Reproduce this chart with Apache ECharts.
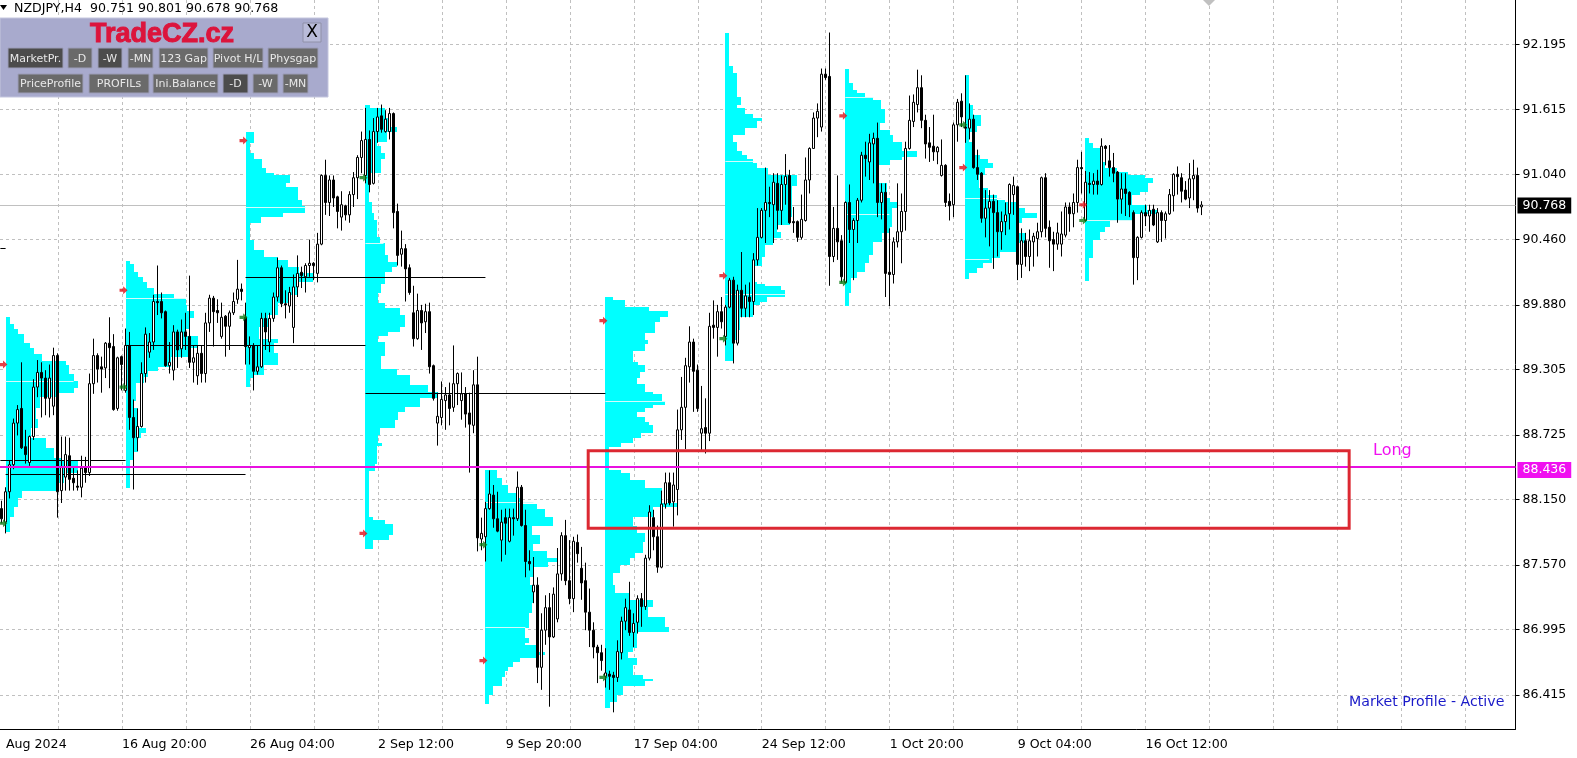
<!DOCTYPE html>
<html>
<head>
<meta charset="utf-8">
<title>NZDJPY,H4</title>
<script src="https://cdn.jsdelivr.net/npm/echarts@6/dist/echarts.min.js"></script>
<style>
  html, body { margin: 0; padding: 0; background: #fff; overflow: hidden; }
  #chart { width: 1577px; height: 758px; }
</style>
</head>
<body>
<div id="chart"></div>
<script>
// price ticks and time labels
const priceTicks = [92.195, 91.615, 91.04, 90.46, 89.88, 89.305, 88.725, 88.15, 87.57, 86.995, 86.415]
const timeLabels = { 1: 'Aug 2024', 30: '16 Aug 20:00', 62: '26 Aug 04:00', 94: '2 Sep 12:00', 126: '9 Sep 20:00', 158: '17 Sep 04:00', 190: '24 Sep 12:00', 222: '1 Oct 20:00', 254: '9 Oct 04:00', 286: '16 Oct 12:00' }
const lastPrice = 90.768
const longPrice = 88.436

// H4 candles: open, close, low, high
const candles = [
  [88.07,87.98,87.94,88.14],[87.95,88.22,87.85,88.26],[88.22,88.46,88.16,88.50],[88.46,88.83,88.42,88.87],[88.83,88.95,88.72,88.99],
  [88.96,88.61,88.60,89.37],[88.62,88.55,88.47,88.77],[88.48,88.71,88.45,88.72],[88.71,89.15,88.68,89.22],[89.15,89.28,89.06,89.39],
  [89.28,89.23,88.88,89.37],[89.23,89.05,88.90,89.30],[89.05,89.23,88.88,89.35],[88.98,89.43,88.90,89.50],[89.43,88.22,87.99,89.45],
  [88.23,88.44,88.12,88.71],[88.35,88.55,88.23,88.71],[88.54,88.33,88.23,88.70],[88.34,88.30,88.23,88.43],[88.27,88.26,88.23,88.41],
  [88.26,88.43,88.17,88.54],[88.44,88.39,88.30,88.53],[88.39,89.18,88.36,89.27],[89.18,89.43,89.09,89.58],[89.43,89.31,89.19,89.45],
  [89.33,89.31,89.10,89.42],[89.32,89.54,89.23,89.55],[89.54,89.50,89.14,89.77],[89.51,88.95,88.94,89.62],[88.96,89.41,88.94,89.42],
  [89.42,89.35,89.12,89.43],[89.12,89.52,89.10,89.67],[89.52,88.88,88.77,89.64],[88.88,88.70,88.24,89.04],[88.70,88.80,88.58,88.96],
  [88.80,89.27,88.79,89.37],[89.27,89.62,89.19,89.68],[89.46,89.55,89.41,89.63],[89.55,89.91,89.48,89.97],[89.91,89.90,89.79,90.23],
  [89.91,89.81,89.76,89.99],[89.82,89.34,89.33,89.83],[89.34,89.37,89.27,89.55],[89.30,89.64,89.21,89.70],[89.64,89.48,89.32,89.66],
  [89.49,89.64,89.41,89.75],[89.64,89.60,89.48,89.81],[89.60,89.37,89.32,90.14],[89.37,89.41,89.19,89.52],[89.25,89.45,89.17,89.52],
  [89.45,89.27,89.19,89.52],[89.27,89.72,89.19,89.81],[89.72,89.94,89.64,89.97],[89.94,89.82,89.51,89.96],[89.83,89.81,89.72,89.93],
  [89.60,89.77,89.58,89.90],[89.78,89.69,89.42,89.79],[89.69,89.81,89.48,89.83],[89.81,89.91,89.79,89.99],[89.93,90.02,89.89,90.28],
  [90.02,90.00,89.92,90.07],[89.77,89.51,89.35,89.90],[89.50,89.52,89.35,89.60],[89.52,89.29,89.12,89.54],[89.29,89.33,89.26,89.52],
  [89.33,89.76,89.32,89.81],[89.76,89.64,89.48,89.81],[89.55,89.76,89.46,89.81],[89.76,89.95,89.73,89.99],[89.95,90.21,89.91,90.30],
  [90.21,89.89,89.86,90.23],[89.89,89.88,89.76,90.01],[89.87,89.99,89.81,90.04],[89.68,90.04,89.54,90.15],[90.04,90.16,89.95,90.32],
  [90.17,90.14,90.03,90.22],[90.13,90.23,89.99,90.25],[90.23,90.25,90.13,90.46],[90.25,90.23,90.10,90.26],[90.16,90.42,90.08,90.52],
  [90.42,91.03,90.41,91.04],[91.03,90.79,90.68,91.17],[90.79,90.99,90.67,91.03],[90.99,90.83,90.75,91.03],[90.84,90.71,90.56,90.85],
  [90.66,90.77,90.54,90.89],[90.76,90.68,90.63,90.77],[90.68,90.86,90.61,90.89],[90.86,91.01,90.75,91.06],[91.01,91.19,90.82,91.21],
  [91.19,91.34,91.05,91.42],[91.03,91.35,90.96,91.63],[91.35,90.95,90.88,91.43],[90.96,91.42,90.95,91.54],[91.42,91.55,91.32,91.63],
  [91.56,91.44,91.41,91.66],[91.42,91.53,91.41,91.61],[91.42,91.58,91.35,91.63],[91.58,90.70,90.56,91.59],[90.71,90.32,90.23,90.78],
  [90.33,90.38,90.22,90.54],[90.38,90.20,89.91,90.42],[90.21,89.99,89.97,90.24],[89.81,89.58,89.51,90.05],[89.58,89.83,89.57,89.98],
  [89.83,89.72,89.48,89.88],[89.73,89.82,89.63,89.89],[89.82,89.33,89.27,89.90],[89.34,89.05,89.03,89.35],[88.83,88.89,88.63,89.10],
  [88.88,89.04,88.81,89.20],[89.03,89.08,88.77,89.15],[89.08,88.96,88.81,89.19],[88.97,89.18,88.93,89.52],[89.18,89.27,88.99,89.28],
  [89.03,89.09,88.86,89.28],[89.09,88.91,88.79,89.15],[88.92,88.82,88.39,89.10],[88.81,89.17,88.74,89.30],[89.17,87.81,87.69,89.42],
  [87.80,87.85,87.70,87.99],[87.82,88.07,87.60,88.13],[88.07,88.20,88.06,88.41],[88.19,87.98,87.90,88.28],[87.98,87.87,87.86,88.22],
  [87.79,87.95,87.60,88.06],[87.99,87.94,87.66,88.07],[87.78,87.99,87.77,88.07],[87.99,87.98,87.83,88.07],[87.98,88.26,87.96,88.40],
  [88.26,87.92,87.91,88.28],[87.92,87.60,87.46,88.06],[87.60,87.58,87.52,87.70],[87.33,87.39,87.23,87.64],[87.39,86.66,86.52,87.46],
  [86.66,86.99,86.46,87.14],[86.99,87.19,86.86,87.30],[87.19,86.93,86.31,87.32],[86.93,87.31,86.92,87.37],[87.09,87.49,87.06,87.72],
  [87.49,87.83,87.43,87.86],[87.83,87.43,87.39,87.97],[87.43,87.27,87.22,87.79],[87.27,87.78,87.15,87.82],[87.77,87.67,87.59,87.84],
  [87.54,87.41,87.26,87.73],[87.43,87.15,86.99,87.59],[87.15,86.99,86.84,87.36],[86.99,86.84,86.74,87.06],[86.84,86.79,86.52,86.86],
  [86.79,86.72,86.63,86.86],[86.58,86.61,86.48,86.83],[86.60,86.58,86.46,86.63],[86.59,86.57,86.26,86.62],[86.57,86.80,86.53,86.90],
  [86.79,87.07,86.73,87.11],[87.07,87.19,86.99,87.27],[87.17,86.97,86.94,87.42],[86.97,87.05,86.84,87.14],[87.06,87.27,86.96,87.30],
  [87.27,87.20,87.02,87.32],[87.20,87.63,87.17,87.66],[87.63,88.04,87.61,88.10],[87.99,87.82,87.70,88.06],[87.82,87.55,87.50,87.92],
  [87.55,88.11,87.54,88.23],[88.11,88.30,88.07,88.39],[88.30,88.12,88.10,88.39],[88.13,88.28,87.91,88.39],[88.24,88.77,88.01,88.95],
  [88.77,88.97,88.68,89.24],[88.97,89.34,88.60,89.41],[89.33,89.55,89.19,89.69],[89.55,89.29,88.93,89.58],[89.30,88.96,88.93,89.35],
  [88.74,88.78,88.59,89.16],[88.79,88.74,88.56,89.05],[88.74,89.69,88.67,89.81],[89.70,89.68,89.58,89.92],[89.68,89.82,89.42,89.88],
  [89.82,89.73,89.67,89.95],[89.60,89.86,89.52,89.88],[89.86,90.10,89.85,90.12],[90.10,89.54,89.36,90.13],[89.54,90.01,89.52,90.06],
  [90.01,89.85,89.77,90.35],[89.85,89.96,89.77,90.06],[89.95,89.91,89.77,90.08],[89.91,90.28,89.79,90.34],[90.28,90.48,90.23,90.74],
  [90.48,90.72,90.47,90.74],[90.72,90.79,90.43,91.10],[90.79,90.78,90.66,90.93],[90.77,90.97,90.43,91.05],[90.96,90.72,90.55,91.05],
  [90.72,90.95,90.59,91.03],[90.95,91.02,90.77,91.22],[91.03,90.61,90.60,91.08],[90.62,90.61,90.52,90.75],[90.62,90.48,90.44,90.63],
  [90.48,90.64,90.46,90.86],[90.63,90.99,90.62,91.19],[90.99,91.27,90.87,91.28],[91.27,91.54,91.27,91.59],[91.54,91.60,91.37,91.67],
  [91.46,91.93,91.42,91.98],[91.93,91.90,91.88,91.98],[91.91,90.31,90.05,92.30],[90.31,90.56,90.26,90.75],[90.56,90.44,90.28,91.03],
  [90.45,90.13,90.08,90.50],[90.08,90.79,90.07,90.80],[90.79,90.55,90.43,90.95],[90.55,90.63,90.10,90.65],[90.63,90.81,90.43,90.83],
  [90.81,91.21,90.79,91.24],[91.21,91.18,91.02,91.33],[91.15,91.32,90.99,91.40],[91.31,91.36,90.96,91.41],[91.36,90.79,90.66,91.50],
  [90.79,90.88,90.64,90.96],[90.88,90.16,89.95,90.96],[90.17,90.15,89.87,90.56],[90.15,90.44,90.07,90.48],[90.44,90.53,90.39,90.96],
  [90.53,90.71,90.25,90.87],[90.71,91.27,90.54,91.33],[91.27,91.52,91.26,91.74],[91.51,91.68,91.46,91.75],[91.66,91.81,91.59,91.97],
  [91.81,91.52,91.45,91.92],[91.52,91.31,91.18,91.57],[91.32,91.28,91.15,91.46],[91.29,91.24,91.16,91.57],[91.24,91.28,91.13,91.29],
  [91.03,91.12,91.02,91.35],[91.12,90.79,90.75,91.13],[90.80,90.76,90.63,90.87],[90.77,91.48,90.66,91.50],[91.48,91.68,91.33,91.71],
  [91.69,91.55,91.46,91.76],[91.46,91.45,91.32,91.92],[91.45,91.53,91.35,91.67],[91.53,91.10,91.09,91.57],[91.10,91.04,90.99,91.26],
  [91.05,90.65,90.61,91.06],[90.65,90.74,90.48,90.90],[90.74,90.80,90.40,90.90],[90.80,90.70,90.20,90.86],[90.70,90.53,90.31,90.81],
  [90.53,90.62,90.37,90.71],[90.62,90.68,90.50,90.79],[90.69,90.95,90.55,90.96],[90.86,90.94,90.68,91.02],[90.93,90.24,90.10,90.94],
  [90.24,90.45,90.12,90.56],[90.45,90.31,90.22,90.52],[90.31,90.45,90.18,90.55],[90.44,90.49,90.22,90.52],[90.47,90.53,90.31,90.61],
  [90.53,91.01,90.48,91.02],[91.01,90.56,90.48,91.05],[90.57,90.45,90.21,90.63],[90.46,90.42,90.18,90.53],[90.42,90.52,90.37,90.61],
  [90.42,90.51,90.31,90.71],[90.50,90.75,90.48,90.79],[90.75,90.69,90.53,90.79],[90.69,90.79,90.57,90.87],[90.79,91.10,90.70,91.17],
  [91.10,91.09,90.87,91.24],[90.63,90.97,90.62,91.07],[90.96,90.95,90.87,91.06],[90.95,90.98,90.86,91.05],[90.98,90.95,90.86,91.08],
  [90.95,91.29,90.94,91.36],[91.29,91.27,91.12,91.30],[91.16,91.10,91.02,91.30],[91.10,91.05,90.97,91.23],[91.06,90.82,90.61,91.07],
  [90.82,90.91,90.69,91.05],[90.91,90.87,90.67,91.05],[90.88,90.77,90.66,90.89],[90.70,90.30,90.06,90.72],[90.30,90.48,90.10,90.49],
  [90.48,90.70,90.47,90.72],[90.70,90.67,90.58,90.77],[90.67,90.72,90.53,90.77],[90.73,90.59,90.58,90.77],[90.44,90.70,90.43,90.74],
  [90.70,90.63,90.44,90.72],[90.63,90.69,90.47,90.71],[90.69,90.86,90.68,90.91],[90.85,91.04,90.71,91.05],[91.04,91.02,90.86,91.11],
  [91.01,90.89,90.79,91.05],[90.90,90.82,90.81,90.98],[90.83,91.00,90.74,91.14],[91.00,91.03,90.81,91.17],[91.03,90.74,90.70,91.10],
  [90.751,90.768,90.678,90.801]
]

// market profiles: [row top price, row length in bars], last row closes the profile
const profile1 = [[89.77,1],[89.71,2],[89.67,3],[89.62,4.5],[89.54,6],[89.50,7],[89.44,9],[89.38,15],[89.35,15.75],[89.27,17],[89.20,18],[89.14,17],[89.10,12.5],[89.06,8.5],[88.96,7.5],[88.87,8],[88.79,6.25],[88.70,10],[88.61,12],[88.52,14],[88.50,18],[88.39,14.5],[88.30,13],[88.23,4],[88.16,3],[88.08,2],[88.00,1],[87.86,0]]
const profile2 = [[90.27,1],[90.24,2],[90.17,3],[90.13,4.25],[90.08,5.25],[90.03,7],[89.98,12],[89.93,15],[89.88,15.25],[89.83,17],[89.76,15.75],[89.67,15],[89.60,18],[89.50,16.25],[89.42,11.25],[89.33,8],[89.29,5.5],[89.24,4.5],[89.19,2.5],[89.03,2],[88.96,3],[88.79,5],[88.74,3.75],[88.70,3],[88.57,2],[88.50,1],[88.25,0]]
const profile3 = [[91.42,2],[91.32,1],[91.23,2],[91.18,4],[91.10,5],[91.05,7],[91.03,11],[90.96,10],[90.93,13],[90.81,14],[90.76,15],[90.70,9.25],[90.66,3.75],[90.61,1],[90.46,2],[90.37,4.5],[90.31,8],[90.28,10.5],[90.22,13.25],[90.16,17],[90.08,13],[89.97,10.5],[89.90,8],[89.79,5.5],[89.68,3.25],[89.58,8],[89.54,7],[89.45,8],[89.35,4.5],[89.26,2],[89.23,1],[89.15,0]]
const profile4 = [[91.66,1.25],[91.63,5],[91.54,6.25],[91.46,8],[91.42,5.5],[91.33,3],[91.29,4],[91.23,5],[91.18,4],[91.05,1.25],[90.91,1],[90.79,1.75],[90.70,2.25],[90.63,3],[90.48,3.75],[90.43,5],[90.32,5.75],[90.26,8],[90.22,6.75],[90.17,5],[90.07,4],[89.99,3.25],[89.90,5],[89.85,8.75],[89.79,10],[89.68,8.75],[89.64,5.75],[89.60,3.25],[89.55,5],[89.43,4],[89.31,8],[89.26,11.25],[89.17,15.75],[89.11,18.25],[89.05,13.75],[88.97,10],[88.93,8.25],[88.86,7.5],[88.79,3.75],[88.72,3.25],[88.65,4.25],[88.63,3],[88.47,2.5],[88.40,1],[88.00,2],[87.97,5],[87.93,7],[87.84,6],[87.79,2],[87.71,0]]
const profile5 = [[88.41,3],[88.34,4.25],[88.28,5.75],[88.21,8],[88.16,9.5],[88.11,13],[88.07,15],[88.00,17],[87.92,11.75],[87.84,13.75],[87.76,12],[87.69,15.5],[87.63,18],[87.60,15.75],[87.55,12.25],[87.46,11.25],[87.39,12],[87.23,11.75],[87.14,11],[87.01,10],[86.92,11],[86.88,10],[86.86,13.25],[86.80,15],[86.77,13],[86.74,8.75],[86.71,7],[86.66,5.75],[86.63,5],[86.57,4.25],[86.49,2],[86.41,1],[86.33,0]]
const profile6 = [[89.95,2],[89.92,5],[89.86,11],[89.83,15.75],[89.77,13.75],[89.73,12.5],[89.63,10],[89.57,10.75],[89.53,10],[89.47,7],[89.37,8.25],[89.35,10],[89.28,8.75],[89.23,8],[89.18,10],[89.11,12],[89.09,14.25],[89.03,15],[88.99,12],[88.96,10],[88.93,8],[88.88,10],[88.84,11],[88.81,12],[88.74,9],[88.70,7],[88.65,4],[88.62,1],[88.41,4],[88.39,6.25],[88.32,10],[88.25,14.25],[88.12,18],[88.08,12],[88.00,7],[87.92,8],[87.85,10],[87.77,9.5],[87.68,7.5],[87.63,6.25],[87.57,3.75],[87.50,2],[87.39,2.5],[87.32,6.25],[87.26,12],[87.20,10.75],[87.11,15],[87.02,16],[86.97,8],[86.83,7],[86.80,5.75],[86.74,8],[86.68,7],[86.59,9.5],[86.56,12],[86.54,10],[86.49,4.5],[86.41,3],[86.35,1.25],[86.30,0]]
const profile7 = [[92.30,1],[92.00,2],[91.94,3],[91.73,4],[91.66,3],[91.63,5],[91.58,7],[91.54,9.25],[91.51,8],[91.45,5],[91.39,2],[91.33,3],[91.25,4.25],[91.21,5.5],[91.18,7],[91.14,8],[91.10,10.75],[91.03,18],[90.94,16.75],[90.79,16.75],[90.66,16.25],[90.59,13],[90.53,14],[90.47,12],[90.41,10],[90.31,9.25],[90.23,7.5],[90.08,8],[90.07,10],[90.05,14],[90.01,15],[89.95,10.5],[89.91,8.75],[89.88,7],[89.77,3.75],[89.66,3],[89.57,2],[89.38,0]]
const profile8 = [[91.98,1],[91.85,2],[91.79,3],[91.76,5],[91.73,7],[91.70,9],[91.62,10],[91.50,8.75],[91.43,11.25],[91.39,12],[91.33,14.25],[91.25,18],[91.19,14.25],[91.17,11.25],[91.12,8],[90.96,10.5],[90.83,11.25],[90.79,13],[90.74,11.75],[90.57,11.25],[90.52,9.25],[90.44,7],[90.32,6],[90.25,5],[90.17,3],[90.12,1.5],[89.99,1],[89.87,0]]
const profile9 = [[91.92,1],[91.66,2],[91.57,4],[91.47,3],[91.42,1],[91.33,1.75],[91.21,3.75],[91.18,5.75],[91.14,7],[91.10,5],[91.03,3.5],[90.92,5.75],[90.86,8],[90.81,10],[90.79,13],[90.74,15],[90.70,18],[90.65,14.25],[90.61,13.25],[90.52,15],[90.43,13.25],[90.35,8.75],[90.30,6.75],[90.25,4.5],[90.21,3],[90.16,1],[90.11,0]]
const profile10 = [[91.36,1],[91.32,2],[91.27,3.75],[91.19,4.5],[91.15,5],[91.10,8],[91.06,10.75],[91.03,15],[91.01,17],[90.96,15.75],[90.88,13.75],[90.86,11.75],[90.77,15.5],[90.72,18],[90.69,12],[90.63,6.25],[90.57,5],[90.53,3.75],[90.46,2],[90.30,1],[90.09,0]]
const profiles = [profile1, profile2, profile3, profile4, profile5, profile6, profile7, profile8, profile9, profile10]
const profileStarts = [0.9, 30.9, 60.9, 90.9, 120.9, 150.9, 180.9, 210.9, 240.9, 270.9]

// pale lines inside the profiles: [profile number, price, length in bars]
const paleLines = [[0,89.20,17],[1,89.94,15],[2,90.75,15],[3,90.43,4.5],[4,88.13,12],[4,87.02,10],[5,89.03,15],[6,91.16,7],[6,89.98,15],[7,91.73,7],[7,90.69,11],[8,90.83,9],[8,90.29,6],[9,90.63,12]]

// black lines: [from bar, to bar, price]
const levelLines = [[60.9,120.9,90.13],[30.9,90.9,89.52],[90.9,150.9,89.10],[-0.4,30.9,88.50],[0.9,60.9,88.38],[-0.4,0.9,90.39]]

const redArrows = [[0.35,89.35],[30.4,90.01],[60.4,91.34],[90.4,87.85],[120.4,86.72],[150.4,89.74],[180.4,90.14],[210.4,91.56],[240.4,91.10],[270.4,90.77]]
const greenArrows = [[0.35,87.94],[30.4,89.15],[60.4,89.77],[90.4,91.01],[120.4,87.75],[150.4,86.57],[180.4,89.58],[210.4,90.08],[240.4,91.48],[270.4,90.63]]

// zone rectangle: [from bar, to bar, top price, bottom price]
const zoneBox = [146.6, 336.9, 88.585, 87.895]

const barSlots = 379
const arrowPath = 'path://M0 2.4H3.6V0L8 4L3.6 8V5.6H0Z'
const uiFont = '"DejaVu Sans", sans-serif'

const categories = Array.from({ length: barSlots }, (_, i) => timeLabels[i] || '')

const profileRows = []
profiles.forEach((rows, n) => {
  rows.slice(0, -1).forEach((row, j) => {
    profileRows.push([profileStarts[n], row[1], row[0], rows[j + 1][0]])
  })
})

const rectItem = (params, api) => {
  const a = api.coord([api.value(0), api.value(2)])
  const b = api.coord([api.value(0) + api.value(1), api.value(3)])
  return {
    type: 'rect',
    shape: { x: Math.round(a[0]), y: Math.round(a[1]), width: Math.round(b[0]) - Math.round(a[0]), height: Math.round(b[1]) - Math.round(a[1]) },
    style: { fill: '#00ffff' }
  }
}

const segItem = (color) => (params, api) => {
  const a = api.coord([api.value(0), api.value(2)])
  const b = api.coord([api.value(1), api.value(2)])
  const y = Math.round(a[1]) + 0.5
  return {
    type: 'line',
    shape: { x1: a[0], y1: y, x2: b[0], y2: y },
    style: { stroke: color, lineWidth: 1 }
  }
}

// full width price line with its tag on the axis
const priceLine = (price, color, width, tagColor, tagShift, z) => ({
  type: 'custom',
  xAxisIndex: 1,
  z,
  silent: true,
  renderItem: (params, api) => {
    const a = api.coord([api.value(0), api.value(2)])
    const b = api.coord([api.value(1), api.value(2)])
    const y = Math.round(a[1]) + (width % 2 ? 0.5 : 0)
    return {
      type: 'group',
      children: [
        { type: 'line', shape: { x1: a[0], y1: y, x2: b[0], y2: y }, style: { stroke: color, lineWidth: width } },
        {
          type: 'text',
          x: b[0] + 2,
          y: y + tagShift,
          style: {
            text: price.toFixed(3),
            fill: '#fff',
            backgroundColor: tagColor,
            font: '12.5px ' + uiFont,
            padding: [2, 5, 1, 5],
            verticalAlign: 'middle'
          }
        }
      ]
    }
  },
  encode: { x: 0, y: 2 },
  data: [[-0.5, 378.5, price]]
})

const button = (x, y, w, h, label, dark) => [
  { type: 'rect', z: 50, shape: { x, y, width: w, height: h }, style: { fill: dark ? '#4c4c4c' : '#6a6a6a', stroke: '#9c9db8', lineWidth: 1 } },
  { type: 'text', z: 51, x: x + w / 2, y: y + h / 2 + 1, style: { text: label, fill: '#e8e8e8', font: '11px ' + uiFont, align: 'center', verticalAlign: 'middle' } }
]

const panel = [
  { type: 'rect', z: 49, shape: { x: 0, y: 18, width: 328, height: 79 }, style: { fill: '#a8aacd', stroke: '#c4c6de', lineWidth: 1 } },
  { type: 'text', z: 51, x: 162, y: 35, style: { text: 'TradeCZ.cz', fill: '#dc143c', stroke: '#dc143c', lineWidth: 1, font: 'bold 27px "Liberation Sans", sans-serif', align: 'center', verticalAlign: 'middle' } },
  { type: 'rect', z: 50, shape: { x: 303, y: 23, width: 18, height: 19 }, style: { fill: '#b9bbd9', stroke: '#8f90a8', lineWidth: 1 } },
  { type: 'text', z: 51, x: 312, y: 33, style: { text: 'X', fill: '#000', font: '17px ' + uiFont, align: 'center', verticalAlign: 'middle' } },
  ...button(8, 48, 55, 20, 'MarketPr.', true),
  ...button(68, 48, 24, 20, '-D'),
  ...button(98, 48, 24, 20, '-W', true),
  ...button(128, 48, 25, 20, '-MN'),
  ...button(159, 48, 49, 20, '123 Gap'),
  ...button(213, 48, 50, 20, 'Pivot H/L'),
  ...button(268, 48, 50, 20, 'Physgap'),
  ...button(18, 74, 65, 19, 'PriceProfile'),
  ...button(89, 74, 60, 19, 'PROFILs'),
  ...button(153, 74, 65, 19, 'Ini.Balance'),
  ...button(223, 74, 25, 19, '-D', true),
  ...button(253, 74, 25, 19, '-W'),
  ...button(283, 74, 25, 19, '-MN')
]

const option = {
  animation: false,
  backgroundColor: '#fff',
  grid: { left: -0.5, right: 61.5, top: 0, bottom: 29, containLabel: false },
  xAxis: [
    {
      type: 'category',
      data: categories,
      boundaryGap: true,
      axisLine: { onZero: false, lineStyle: { color: '#000', width: 1 } },
      axisTick: { length: 4, alignWithLabel: true, interval: (i) => i >= 30 && (i - 30) % 32 === 0, lineStyle: { color: '#000' } },
      axisLabel: {
        interval: (i) => categories[i] !== '',
        align: 'left',
        margin: 9,
        color: '#000',
        fontFamily: uiFont,
        fontSize: 12.6
      },
      splitLine: {
        show: true,
        alignWithLabel: true,
        interval: (i) => i >= 14 && (i - 14) % 16 === 0,
        lineStyle: { color: '#c0c0c0', type: [3, 3], width: 1 }
      }
    },
    { type: 'value', min: -0.5, max: 378.5, show: false, splitLine: { show: false } }
  ],
  yAxis: {
    type: 'value',
    position: 'right',
    min: 86.112,
    max: 92.589,
    scale: true,
    axisLine: { show: true, onZero: false, lineStyle: { color: '#000', width: 1 } },
    axisTick: { show: true, length: 4, customValues: priceTicks, lineStyle: { color: '#000' } },
    axisLabel: {
      customValues: priceTicks,
      formatter: (v) => v.toFixed(3),
      margin: 7,
      padding: [4, 0, 0, 0],
      color: '#000',
      fontFamily: uiFont,
      fontSize: 12.5
    },
    splitLine: { show: true, lineStyle: { color: '#c0c0c0', type: [3, 3], width: 1 } }
  },
  graphic: [
    { type: 'polygon', z: 51, shape: { points: [[0, 5], [7, 5], [3.5, 10]] }, style: { fill: '#000' } },
    { type: 'text', z: 51, x: 14, y: 9, style: { text: 'NZDJPY,H4  90.751 90.801 90.678 90.768', fill: '#000', font: '12.6px ' + uiFont, verticalAlign: 'middle' } },
    { type: 'polygon', z: 51, shape: { points: [[1203, 0], [1215, 0], [1209, 6]] }, style: { fill: '#c0c0c0' } },
    { type: 'text', z: 51, x: 1373, y: 451, style: { text: 'Long', fill: '#f010f0', font: '16px ' + uiFont, verticalAlign: 'middle' } },
    { type: 'text', z: 51, x: 1349, y: 702, style: { text: 'Market Profile - Active', fill: '#1a1ac8', font: '14.2px ' + uiFont, verticalAlign: 'middle' } },
    ...panel
  ],
  series: [
    priceLine(lastPrice, '#c0c0c0', 1, '#000', 0, 1),
    {
      type: 'custom',
      xAxisIndex: 1,
      z: 2,
      silent: true,
      renderItem: rectItem,
      encode: { x: 0, y: 2 },
      data: profileRows
    },
    {
      type: 'custom',
      xAxisIndex: 1,
      z: 3,
      silent: true,
      renderItem: segItem('#d4fbfb'),
      encode: { x: 0, y: 2 },
      data: paleLines.map(([n, price, len]) => [profileStarts[n], profileStarts[n] + len, price])
    },
    {
      type: 'custom',
      xAxisIndex: 1,
      z: 4,
      silent: true,
      renderItem: segItem('#000'),
      encode: { x: 0, y: 2 },
      data: levelLines
    },
    {
      type: 'candlestick',
      z: 5,
      barWidth: 2.5,
      silent: true,
      itemStyle: { color: '#fff', color0: '#000', borderColor: '#000', borderColor0: '#000', borderColorDoji: '#000', borderWidth: 1 },
      data: candles
    },
    { type: 'scatter', xAxisIndex: 1, z: 6, silent: true, symbol: arrowPath, symbolSize: 8, itemStyle: { color: '#e01018' }, data: redArrows },
    { type: 'scatter', xAxisIndex: 1, z: 6, silent: true, symbol: arrowPath, symbolSize: 8, itemStyle: { color: '#0a7a14' }, data: greenArrows },
    priceLine(longPrice, '#e810e0', 2, '#f010f0', 3, 7),
    {
      type: 'custom',
      xAxisIndex: 1,
      z: 8,
      silent: true,
      renderItem: (params, api) => {
        const a = api.coord([api.value(0), api.value(2)])
        const b = api.coord([api.value(1), api.value(3)])
        return {
          type: 'rect',
          shape: { x: a[0], y: a[1], width: b[0] - a[0], height: b[1] - a[1] },
          style: { fill: 'none', stroke: '#dc2832', lineWidth: 3 }
        }
      },
      encode: { x: 0, y: 2 },
      data: [zoneBox]
    }
  ]
}

const myChart = echarts.init(document.getElementById('chart'), null, { renderer: 'canvas' })
myChart.setOption(option)
</script>
</body>
</html>
